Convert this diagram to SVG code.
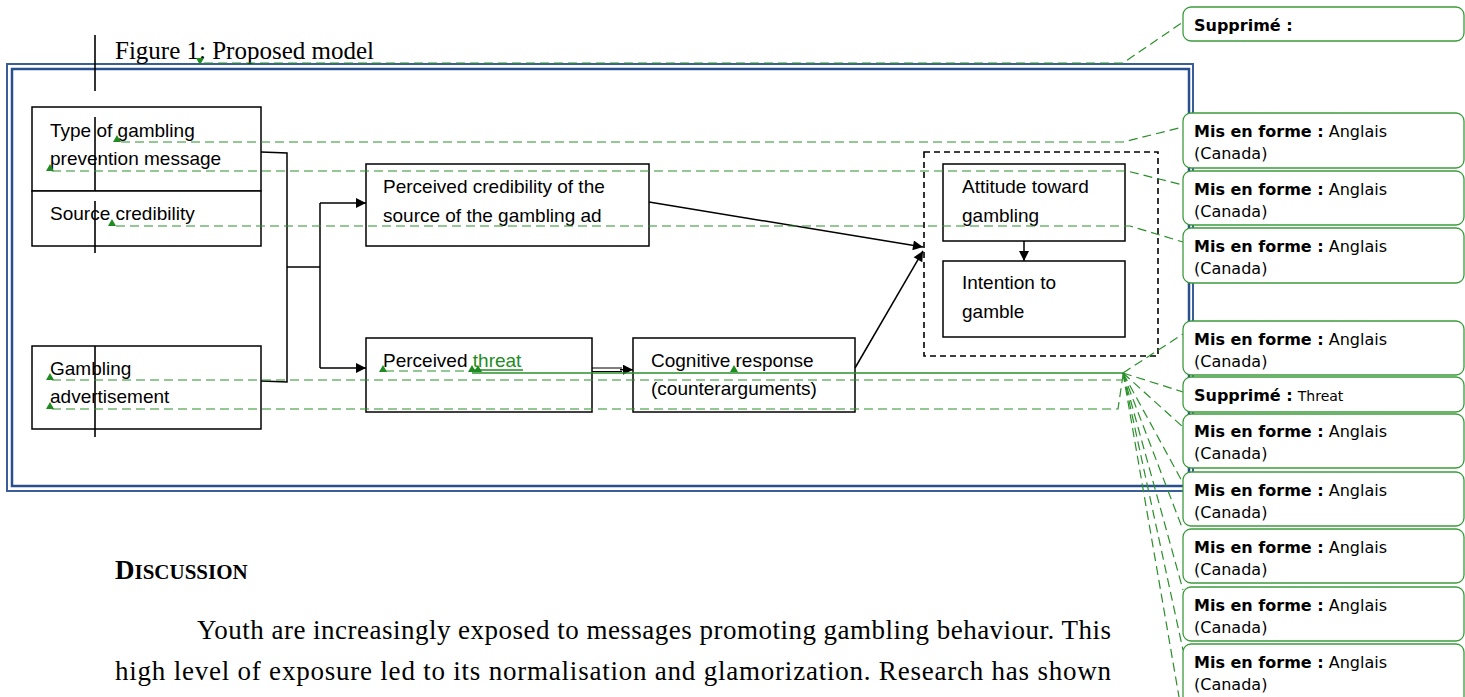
<svg xmlns="http://www.w3.org/2000/svg" width="1465" height="697" viewBox="0 0 1465 697">
<defs>
<marker id="ah" viewBox="0 0 10 10" refX="10" refY="5" markerWidth="13" markerHeight="10" markerUnits="userSpaceOnUse" orient="auto"><path d="M0,0L10,5L0,10z" fill="#000"/></marker>
<style>
.box{fill:#fff;stroke:#000;stroke-width:1.5}
.t{font-family:"Liberation Sans",Arial,sans-serif;font-size:19px;fill:#000}
.conn{fill:none;stroke:#000;stroke-width:1.5}
.gd{fill:none;stroke:#2a8f2a;stroke-width:1.2;stroke-dasharray:9 5}
.gs{fill:none;stroke:#2a8f2a;stroke-width:1.3}
.anc{fill:#1f8a1f}
.cm{fill:#fff;stroke:#3d9b3d;stroke-width:1.3}
.ct{font-family:"DejaVu Sans",Verdana,sans-serif;font-size:16px;fill:#000}
.b{font-weight:bold}
.bar{stroke:#000;stroke-width:1.6}
.serif{font-family:"Liberation Serif","Times New Roman",serif;fill:#000}
</style>
</defs>
<rect width="1465" height="697" fill="#fff"/>

<!-- frame -->
<g id="frame">
<rect x="7" y="64" width="1186" height="427" fill="none" stroke="#3a5f98" stroke-width="2"/>
<rect x="12" y="69" width="1177" height="417" fill="none" stroke="#2a4f8f" stroke-width="2.5"/>
</g>

<text class="serif" x="115" y="59" font-size="25">Figure 1: Proposed model</text>

<!-- nodes -->
<g id="node-type-message">
<rect class="box" x="32" y="107" width="229" height="84"/>
<text class="t" x="50" y="137">Type of gambling</text>
<text class="t" x="50" y="165">prevention message</text>
</g>
<g id="node-source-credibility">
<rect class="box" x="32" y="191" width="229" height="55"/>
<text class="t" x="50" y="220">Source credibility</text>
</g>
<g id="node-gambling-ad">
<rect class="box" x="32" y="346" width="229" height="83"/>
<text class="t" x="50" y="375">Gambling</text>
<text class="t" x="50" y="403">advertisement</text>
</g>
<g id="node-perceived-credibility">
<rect class="box" x="366" y="164" width="283" height="82"/>
<text class="t" x="383" y="193">Perceived credibility of the</text>
<text class="t" x="383" y="222">source of the gambling ad</text>
</g>
<g id="node-perceived-threat">
<rect class="box" x="366" y="338" width="226" height="74"/>
<text class="t" x="383" y="367">Perceived <tspan fill="#238b23">threat</tspan></text>
<line x1="472" y1="370" x2="523" y2="370" stroke="#238b23" stroke-width="1.6"/>
</g>
<g id="node-cognitive-response">
<rect class="box" x="633" y="338" width="222" height="74"/>
<text class="t" x="651" y="367">Cognitive response</text>
<text class="t" x="651" y="395">(counterarguments)</text>
</g>
<g id="node-outcome-group">
<rect x="924" y="152" width="234" height="204" fill="none" stroke="#000" stroke-width="1.6" stroke-dasharray="6 4"/>
</g>
<g id="node-attitude">
<rect class="box" x="943" y="164" width="182" height="77"/>
<text class="t" x="962" y="193">Attitude toward</text>
<text class="t" x="962" y="222">gambling</text>
</g>
<g id="node-intention">
<rect class="box" x="943" y="261" width="182" height="76"/>
<text class="t" x="962" y="289">Intention to</text>
<text class="t" x="962" y="318">gamble</text>
</g>

<!-- connectors -->
<g id="connectors">
<path class="conn" d="M261,152 L287,153 L287,382 L261,381"/>
<path class="conn" d="M287,267 L320,267"/>
<path class="conn" d="M320,203 L320,368"/>
<path class="conn" d="M320,203 L366,203" marker-end="url(#ah)"/>
<path class="conn" d="M320,368 L366,368" marker-end="url(#ah)"/>
<path class="conn" d="M649,202 L923,247" marker-end="url(#ah)"/>
<path class="conn" d="M855,368 L923,251" marker-end="url(#ah)"/>
<path fill="none" stroke="#000" stroke-width="1.1" d="M592,368 L622,368 M592,371.5 L622,371.5"/>
<path class="conn" d="M620,369.7 L633,369.7" marker-end="url(#ah)"/>
<path class="conn" d="M1024,241 L1024,261" marker-end="url(#ah)"/>
</g>

<!-- change bars -->
<g id="change-bars">
<line class="bar" x1="95" y1="35" x2="95" y2="91"/>
<line class="bar" x1="95" y1="117" x2="95" y2="191"/>
<line class="bar" x1="95" y1="201" x2="95" y2="253"/>
<line class="bar" x1="95" y1="346" x2="95" y2="437"/>
</g>

<!-- comment leader lines -->
<g id="comment-leaders">
<path class="gd" d="M204,63 L1123,63 L1183,22"/>
<path class="gd" d="M121,142 L1123,142 L1183,127"/>
<path class="gd" d="M52,171 L1127,171 L1183,185"/>
<path class="gd" d="M116,226 L1130,226 L1183,242"/>
<path class="gd" d="M52,380 L1122,380"/>
<path class="gd" d="M52,409 L1118,409 L1123,375"/>
<path class="gd" d="M385,371 L472,371"/>
<path class="gs" d="M472,373 L1123,373"/>
<path class="gd" d="M1123,373 L1183,334"/>
<path class="gd" d="M1123,373 L1183,392"/>
<path class="gd" d="M1123,373 L1183,427"/>
<path class="gd" d="M1123,373 L1183,483"/>
<path class="gd" d="M1123,373 L1183,530"/>
<path class="gd" d="M1123,373 L1183,590"/>
<path class="gd" d="M1123,373 L1183,650"/>
<path class="gd" d="M1123,373 L1183,720"/>
<path class="anc" d="M196,58 L204,58 L200,65 Z"/>
<path class="anc" d="M113,142 L121,142 L117,135 Z"/>
<path class="anc" d="M46,171 L54,171 L50,164 Z"/>
<path class="anc" d="M108,226 L116,226 L112,219 Z"/>
<path class="anc" d="M46,380 L54,380 L50,373 Z"/>
<path class="anc" d="M46,409 L54,409 L50,402 Z"/>
<path class="anc" d="M379,372 L387,372 L383,365 Z"/>
<path class="anc" d="M468,372 L476,372 L472,365 Z"/>
<path class="anc" d="M474,372 L482,372 L478,365 Z"/>
<path class="anc" d="M730,372 L738,372 L734,365 Z"/>
</g>

<!-- comment balloons -->
<g id="comment-1"><rect class="cm" x="1183" y="7" width="281" height="34" rx="8"/><text class="ct b" x="1194" y="31">Supprimé :</text></g>
<g id="comment-2"><rect class="cm" x="1183" y="113" width="281" height="55" rx="8"/><text class="ct" x="1194" y="137"><tspan class="b">Mis en forme :</tspan> Anglais</text><text class="ct" x="1194" y="159">(Canada)</text></g>
<g id="comment-3"><rect class="cm" x="1183" y="171" width="281" height="54" rx="8"/><text class="ct" x="1194" y="195"><tspan class="b">Mis en forme :</tspan> Anglais</text><text class="ct" x="1194" y="217">(Canada)</text></g>
<g id="comment-4"><rect class="cm" x="1183" y="228" width="281" height="55" rx="8"/><text class="ct" x="1194" y="252"><tspan class="b">Mis en forme :</tspan> Anglais</text><text class="ct" x="1194" y="274">(Canada)</text></g>
<g id="comment-5"><rect class="cm" x="1183" y="321" width="281" height="54" rx="8"/><text class="ct" x="1194" y="345"><tspan class="b">Mis en forme :</tspan> Anglais</text><text class="ct" x="1194" y="367">(Canada)</text></g>
<g id="comment-6"><rect class="cm" x="1183" y="377" width="281" height="35" rx="8"/><text class="ct" x="1194" y="401"><tspan class="b">Supprimé :</tspan> <tspan font-size="14">Threat</tspan></text></g>
<g id="comment-7"><rect class="cm" x="1183" y="414" width="281" height="54" rx="8"/><text class="ct" x="1194" y="437"><tspan class="b">Mis en forme :</tspan> Anglais</text><text class="ct" x="1194" y="459">(Canada)</text></g>
<g id="comment-8"><rect class="cm" x="1183" y="472" width="281" height="54" rx="8"/><text class="ct" x="1194" y="496"><tspan class="b">Mis en forme :</tspan> Anglais</text><text class="ct" x="1194" y="518">(Canada)</text></g>
<g id="comment-9"><rect class="cm" x="1183" y="529" width="281" height="54" rx="8"/><text class="ct" x="1194" y="553"><tspan class="b">Mis en forme :</tspan> Anglais</text><text class="ct" x="1194" y="575">(Canada)</text></g>
<g id="comment-10"><rect class="cm" x="1183" y="587" width="281" height="54" rx="8"/><text class="ct" x="1194" y="611"><tspan class="b">Mis en forme :</tspan> Anglais</text><text class="ct" x="1194" y="633">(Canada)</text></g>
<g id="comment-11"><rect class="cm" x="1183" y="644" width="281" height="60" rx="8"/><text class="ct" x="1194" y="668"><tspan class="b">Mis en forme :</tspan> Anglais</text><text class="ct" x="1194" y="690">(Canada)</text></g>

<!-- body text -->
<text class="serif" x="115" y="579" font-weight="bold"><tspan font-size="27">D</tspan><tspan font-size="21">ISCUSSION</tspan></text>
<text class="serif" x="197" y="639" font-size="27" textLength="914" lengthAdjust="spacing">Youth are increasingly exposed to messages promoting gambling behaviour. This</text>
<text class="serif" x="115" y="680" font-size="27" textLength="996" lengthAdjust="spacing">high level of exposure led to its normalisation and glamorization. Research has shown</text>
</svg>
